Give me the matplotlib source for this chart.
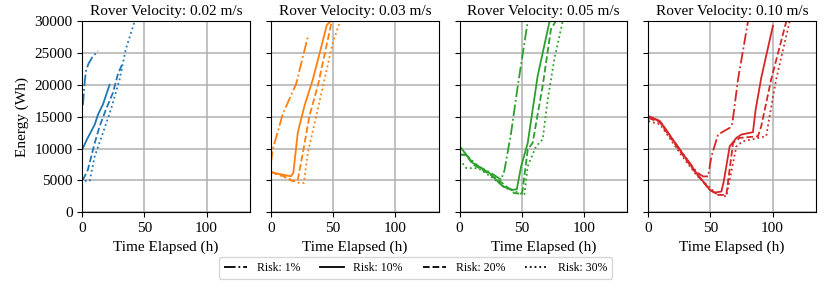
import matplotlib.pyplot as plt

plt.rcParams['font.family'] = ['Liberation Serif', 'DejaVu Serif']

velocities = ['0.02', '0.03', '0.05', '0.10']
colors = ['#1f77b4', '#ff7f0e', '#2ca02c', '#d62728']
risks = ['Risk: 1%', 'Risk: 10%', 'Risk: 20%', 'Risk: 30%']
styles = ['-.', '-', '--', ':']

# v = 0.02 m/s
t1_r1 = [0.5, 1, 2, 3, 5, 8, 12.5]
e1_r1 = [16800, 18000, 20500, 22200, 23300, 24300, 25300]
t1_r10 = [0.5, 3.7, 10, 12.6, 16.6, 22]
e1_r10 = [10070, 11400, 13750, 15300, 16900, 20000]
t1_r20 = [0.5, 4.5, 10, 14, 19, 24.6, 28.6, 32.6]
e1_r20 = [5090, 6660, 10860, 13500, 16100, 18700, 21600, 23450]
t1_r30 = [2, 6, 10, 16.6, 23, 30, 35, 42]
e1_r30 = [4930, 4930, 8760, 12430, 16100, 20800, 25550, 29850]

# v = 0.03 m/s
t2_r1 = [0, 1.4, 9.5, 20.3, 29.7]
e2_r1 = [7750, 9860, 15400, 20150, 27530]
t2_r10 = [0, 4, 9.5, 16, 18, 21.6, 27, 33.8, 40.5, 45, 47.3]
e2_r10 = [6330, 6100, 5900, 5640, 6170, 12500, 16700, 20900, 25950, 29380, 29800]
t2_r20 = [0, 9.5, 17.6, 21.6, 25.7, 31, 37.8, 43, 48.6]
e2_r20 = [6300, 5700, 4850, 5100, 9340, 15140, 19900, 24600, 29640]
t2_r30 = [0, 10, 18, 23, 26.5, 29.7, 36.5, 43.2, 50, 55.4]
e2_r30 = [6300, 5600, 5000, 4590, 4590, 9340, 15140, 20940, 26740, 29800]

# v = 0.05 m/s
t3_r1 = [0, 5, 15, 25, 33.4, 36, 41.4, 46.8, 54.8]
e3_r1 = [9030, 9030, 7200, 6200, 5100, 6500, 12450, 19800, 29900]
t3_r10 = [0, 10.7, 24, 34.8, 42.8, 46, 49.5, 54.8, 62.8, 72.2]
e3_r10 = [10350, 7720, 6150, 4040, 3520, 3600, 7200, 10870, 21380, 29780]
t3_r20 = [0, 5, 10.7, 24, 34.8, 44, 50.3, 54.8, 58.8, 66.8, 73.5, 77.5]
e3_r20 = [9030, 9030, 7500, 6000, 4500, 3000, 2890, 9820, 10900, 19800, 28730, 30000]
t3_r30 = [0, 5.3, 15, 25, 37.4, 52.1, 54.8, 61.5, 66.8, 70.9, 76.2, 82.9]
e3_r30 = [8250, 6930, 6900, 5600, 3780, 2730, 7200, 10350, 11400, 17700, 24000, 29900]

# v = 0.10 m/s
t4_r1 = [0, 9.4, 25.4, 38.8, 44.1, 48.1, 50.8, 56.1, 65.5, 67.6, 72.2, 80.2]
e4_r1 = [15070, 14290, 9820, 6300, 5620, 5620, 8770, 12190, 13240, 13900, 20850, 29900]
t4_r10 = [0, 9.4, 25.4, 38.8, 49.5, 53.5, 58.8, 60.7, 65.5, 70.9, 74.9, 84.2, 86.4, 90.9, 100.3]
e4_r10 = [15070, 14290, 9820, 6150, 3520, 3100, 3250, 4830, 10350, 11660, 12190, 12560, 16120, 21100, 29250]
t4_r20 = [0, 9.4, 25.4, 38.8, 49.5, 56.1, 62.8, 68.2, 73.5, 88.2, 90.9, 98.9, 111]
e4_r20 = [14800, 14100, 9600, 6000, 3500, 2730, 2730, 10870, 11660, 11920, 13500, 20850, 29900]
t4_r30 = [0, 9.4, 25.4, 38.8, 54.8, 62.8, 70.9, 76.2, 94.9, 97.6, 102.9, 113.7]
e4_r30 = [14290, 13800, 9300, 5800, 2890, 2470, 10350, 11140, 11920, 15070, 20850, 29900]

times = [[t1_r1, t1_r10, t1_r20, t1_r30],
         [t2_r1, t2_r10, t2_r20, t2_r30],
         [t3_r1, t3_r10, t3_r20, t3_r30],
         [t4_r1, t4_r10, t4_r20, t4_r30]]
energies = [[e1_r1, e1_r10, e1_r20, e1_r30],
            [e2_r1, e2_r10, e2_r20, e2_r30],
            [e3_r1, e3_r10, e3_r20, e3_r30],
            [e4_r1, e4_r10, e4_r20, e4_r30]]

fig, axes = plt.subplots(1, 4, figsize=(8.31, 2.88), dpi=100, sharey=True)
fig.subplots_adjust(left=0.099, right=0.982, top=0.927, bottom=0.263, wspace=0.125)

for i, ax in enumerate(axes):
    for j in range(4):
        ax.plot(times[i][j], energies[i][j], linestyle=styles[j], color=colors[i], lw=1.3)
    ax.set_title('Rover Velocity: ' + velocities[i] + ' m/s', fontsize=11, pad=4)
    ax.set_xlim(0, 135)
    ax.set_ylim(0, 30000)
    ax.set_xticks([0, 50, 100])
    ax.set_yticks(range(0, 30001, 5000))
    ax.grid(True, color='#b0b0b0', lw=1.1)
    ax.set_axisbelow(True)
    ax.set_xlabel('Time Elapsed (h)', fontsize=11)
    ax.tick_params(labelsize=11)
axes[0].set_ylabel('Energy (Wh)', fontsize=11)

# legend shared by all panels
handles = [plt.Line2D([], [], color='black', linestyle=s, lw=1.3) for s in styles]
fig.legend(handles, risks, loc='lower center', ncol=4, bbox_to_anchor=(0.5, 0.012),
           fontsize=8.5, handlelength=2.0, columnspacing=1.7, frameon=True)

plt.savefig('out.png')
